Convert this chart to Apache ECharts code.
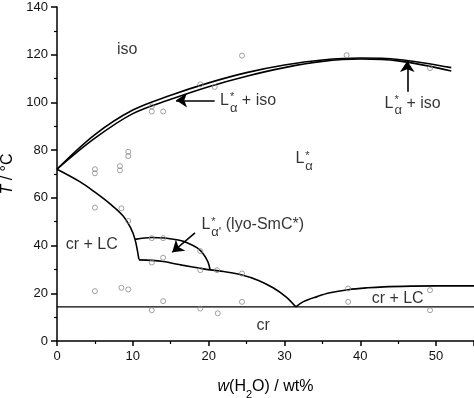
<!DOCTYPE html>
<html>
<head>
<meta charset="utf-8">
<script src="https://cdn.jsdelivr.net/npm/echarts@6/dist/echarts.min.js"></script>
<style>
  html, body { margin: 0; padding: 0; background: #fff; }
  #chart { width: 474px; height: 398px; }
</style>
</head>
<body>
<div id="chart"></div>
<script>
// phase boundaries [wt% H2O, T / °C]
const isoUpper = [[0, 72], [5, 86.5], [10, 96.8], [15, 103], [20, 108.2], [25, 112.5], [30, 115.7], [35, 117.8], [40, 118.6], [45, 118], [52, 114.6]];
const isoLower = [[0, 72], [5, 85], [10, 95.3], [15, 101.3], [20, 106.6], [25, 111], [30, 114.6], [35, 117.2], [40, 118.2], [45, 117.4], [52, 113.2]];
const smcLeft = [[0, 72], [3, 66.8], [5, 62.4], [7, 57.5], [8.7, 52.5], [9.7, 47.5], [10.3, 42.5], [10.8, 34.2]];
const shelf = [[10.8, 34], [12.5, 33.8], [14, 33.3], [16.5, 31.8], [18.5, 30.7], [20.2, 29.8], [22, 29.1], [24.4, 27.7], [26.5, 25.5], [28.5, 22.3], [30.2, 18.5], [31.5, 14.3]];
const rightShelf = [[31.5, 14.3], [32.5, 16.5], [34.3, 18.6], [36, 20.2], [38.4, 21.5], [41, 22.3], [43.1, 22.7], [47, 23], [50, 23.1], [55, 23.1]];
const smcArc = [[10.3, 42.6], [12.5, 43.4], [14.2, 43.2], [16, 42.3], [17.3, 41], [18.5, 39], [19.3, 36.5], [19.9, 33.2], [20.2, 29.8]];
const crLine = [[0, 14.3], [55, 14.3]];

// measured points
const measured = [
  [5, 70.3], [5, 72], [8.3, 71.5], [8.3, 73.3], [9.4, 77.5], [9.4, 79.3],
  [12.5, 98.3], [12.5, 96.2], [14, 96.2], [18.9, 107.6], [20.8, 106.5], [24.4, 119.6], [38.2, 119.8], [49.2, 114.4],
  [5, 55.9], [8.5, 55.6], [9.4, 50.3], [12.5, 43.1], [14, 43.1], [14, 34.9], [12.5, 32.9], [18.9, 37.7], [18.9, 29.7],
  [21.1, 29.7], [24.4, 28.3], [5, 20.9], [8.5, 22.3], [9.4, 21.6], [14, 16.7], [12.5, 12.9], [18.9, 13.6], [21.2, 11.6],
  [24.4, 16.4], [38.4, 22], [38.4, 16.4], [49.2, 21.3], [49.2, 12.9]
];

// phase labels and arrows
const labelText = ['iso', '{m|L}{sup|*}{sub|α}{m| + iso}', '{m|L}{sup|*}{sub|α}{m| + iso}', '{m|L}{sup|*}{sub|α}',
  "{m|L}{sup|*}{sub|α'}{m| (lyo-SmC*)}", 'cr + LC', 'cr + LC', 'cr'];
const labelPos = [[7.9, 122], [21.5, 100.8], [43.2, 99.7], [31.45, 76.3], [19.05, 48.6], [1.15, 40.5], [41.5, 17.8], [26.3, 6.6]];
const arrows = [[[20.8, 100.9], [15.7, 100.9]], [[46.2, 104.5], [46.2, 117.4]], [[18.2, 45.3], [15.2, 37.2]]];

const font = '"Liberation Sans", Arial, sans-serif';

const boundary = (data, width) => ({
  type: 'line',
  data: data,
  smooth: 0.35,
  showSymbol: false,
  silent: true,
  lineStyle: { color: '#000', width: width || 1.6 }
});

const chart = echarts.init(document.getElementById('chart'));
chart.setOption({
  animation: false,
  grid: { left: 57, right: 0, top: 7, bottom: 57, containLabel: false, outerBoundsMode: 'none' },
  xAxis: {
    type: 'value', min: 0, max: 55, interval: 10,
    name: '{i|w}(H{s|2}O) / wt%',
    nameLocation: 'middle', nameGap: 33,
    nameTextStyle: {
      fontFamily: font, fontSize: 16, color: '#000',
      rich: {
        i: { fontFamily: font, fontSize: 16, fontStyle: 'italic', color: '#000' },
        s: { fontFamily: font, fontSize: 11, color: '#000', verticalAlign: 'bottom', lineHeight: 26 }
      }
    },
    axisLine: { lineStyle: { color: '#000', width: 1.5 } },
    axisTick: { inside: false, length: 5, lineStyle: { color: '#000', width: 1.5 } },
    minorTick: { show: true, splitNumber: 2, length: 3, lineStyle: { color: '#000', width: 1.2 } },
    axisLabel: { fontFamily: font, fontSize: 13, color: '#111', margin: 9, showMaxLabel: false },
    splitLine: { show: false }
  },
  yAxis: {
    type: 'value', min: 0, max: 140, interval: 20,
    name: '{i|T} / °C',
    nameLocation: 'middle', nameGap: 38,
    nameTextStyle: {
      fontFamily: font, fontSize: 16, color: '#000',
      rich: { i: { fontFamily: font, fontSize: 16, fontStyle: 'italic', color: '#000' } }
    },
    axisLine: { show: true, lineStyle: { color: '#000', width: 1.5 } },
    axisTick: { show: true, inside: false, length: 6, lineStyle: { color: '#000', width: 1.5 } },
    minorTick: { show: true, splitNumber: 2, length: 3, lineStyle: { color: '#000', width: 1.2 } },
    axisLabel: { fontFamily: font, fontSize: 13, color: '#111', margin: 9 },
    splitLine: { show: false }
  },
  series: [
    boundary(isoUpper),
    boundary(isoLower),
    boundary(smcLeft),
    boundary(shelf),
    boundary(rightShelf),
    boundary(smcArc),
    boundary(crLine, 1.1),
    {
      type: 'scatter',
      data: measured,
      symbol: 'circle',
      symbolSize: 5,
      silent: true,
      z: 3,
      itemStyle: { color: 'rgba(255,255,255,0)', borderColor: '#8a8a8a', borderWidth: 1 }
    },
    {
      type: 'lines',
      coordinateSystem: 'cartesian2d',
      data: arrows.map(a => ({ coords: a })),
      symbol: ['none', 'arrow'],
      symbolSize: [8, 11],
      silent: true,
      lineStyle: { color: '#000', width: 1.6, opacity: 1 }
    },
    {
      type: 'scatter',
      data: labelPos.map((p, i) => ({ value: p, name: labelText[i] })),
      symbolSize: 0,
      silent: true,
      label: {
        show: true,
        position: 'right',
        distance: 0,
        formatter: p => p.name,
        fontFamily: font, fontSize: 16, color: '#000',
        rich: {
          m: { fontFamily: font, fontSize: 16, color: '#000', lineHeight: 30 },
          sup: { fontFamily: font, fontSize: 11, color: '#000', width: 0, verticalAlign: 'top', padding: [6, 0, 0, 1] },
          sub: { fontFamily: font, fontSize: 13, color: '#000', verticalAlign: 'bottom', padding: [0, 0, 1, 0] }
        }
      }
    }
  ]
});
</script>
</body>
</html>
